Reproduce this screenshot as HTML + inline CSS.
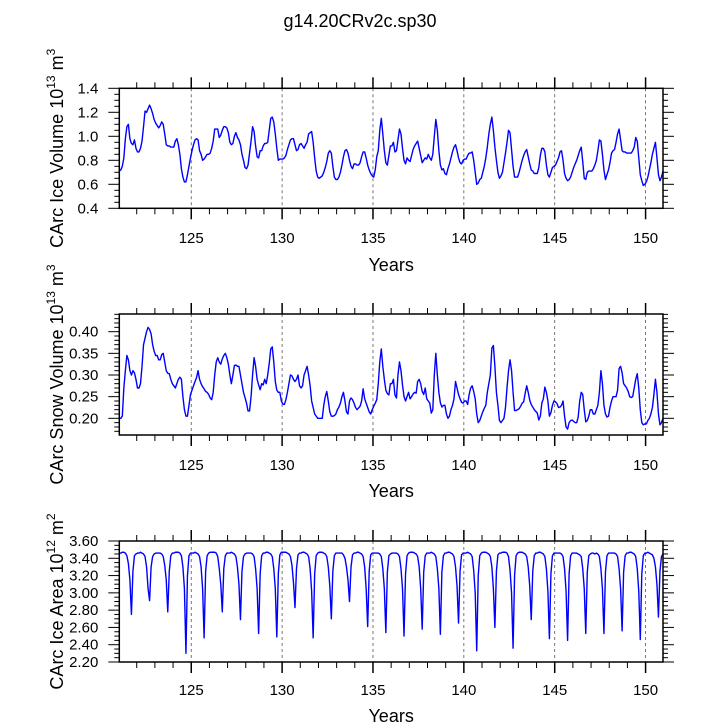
<!DOCTYPE html>
<html><head><meta charset="utf-8"><style>
html,body{margin:0;padding:0;background:#fff;}
svg{display:block;font-family:"Liberation Sans",Arial,sans-serif;}
</style></head><body>
<svg id="chart" width="719" height="724" viewBox="0 0 719 724" xmlns="http://www.w3.org/2000/svg">
<text x="360" y="27" text-anchor="middle" font-size="18">g14.20CRv2c.sp30</text>
</svg>
<script>
const startYear = 121;
const majorYears = [125,130,135,140,145,150];
const iceVolume = [
0.71,0.72,0.75,0.82,0.98,1.08,1.10,0.98,0.94,0.93,0.97,0.90,
0.87,0.87,0.90,0.96,1.08,1.21,1.20,1.23,1.26,1.23,1.19,1.14,
1.11,1.09,1.07,1.09,1.12,1.10,1.02,0.93,0.92,0.92,0.91,0.91,
0.91,0.96,0.98,0.93,0.85,0.73,0.66,0.62,0.62,0.68,0.75,0.82,
0.88,0.93,0.97,0.98,0.97,0.88,0.85,0.80,0.81,0.83,0.85,0.85,
0.86,0.90,0.96,1.06,1.06,1.06,0.99,1.01,1.05,1.08,1.08,1.07,
1.03,0.95,0.93,0.94,1.00,1.03,0.99,0.97,0.93,0.85,0.80,0.74,
0.73,0.76,0.86,0.96,1.08,1.04,0.92,0.83,0.82,0.88,0.88,0.92,
0.94,0.94,0.95,1.05,1.15,1.16,1.12,1.02,0.90,0.80,0.81,0.81,
0.81,0.82,0.84,0.89,0.93,0.97,0.98,0.98,0.93,0.88,0.89,0.93,
0.94,0.92,0.90,0.93,0.95,1.02,1.03,1.04,0.95,0.82,0.71,0.66,
0.65,0.66,0.67,0.70,0.74,0.79,0.86,0.88,0.86,0.75,0.66,0.64,
0.64,0.66,0.70,0.76,0.83,0.88,0.89,0.86,0.80,0.75,0.73,0.77,
0.77,0.76,0.76,0.78,0.83,0.87,0.87,0.82,0.76,0.72,0.69,0.67,
0.66,0.72,0.83,0.88,1.05,1.15,1.02,0.88,0.78,0.76,0.84,0.92,
0.92,0.95,0.87,0.88,0.97,1.06,1.02,0.90,0.80,0.77,0.82,0.80,
0.79,0.84,0.89,0.92,0.94,0.96,0.90,0.84,0.78,0.80,0.82,0.81,
0.85,0.82,0.80,0.85,1.00,1.14,1.05,0.88,0.76,0.72,0.73,0.69,
0.68,0.73,0.77,0.82,0.87,0.91,0.93,0.88,0.82,0.78,0.77,0.80,
0.81,0.81,0.84,0.86,0.86,0.87,0.80,0.70,0.60,0.61,0.64,0.65,
0.70,0.75,0.82,0.91,1.02,1.10,1.16,1.05,0.91,0.80,0.70,0.65,
0.67,0.70,0.78,0.86,0.95,1.05,1.03,0.89,0.75,0.66,0.66,0.66,
0.70,0.75,0.80,0.84,0.87,0.89,0.83,0.77,0.72,0.71,0.69,0.69,
0.69,0.74,0.84,0.90,0.90,0.87,0.76,0.68,0.66,0.70,0.74,0.75,
0.76,0.79,0.82,0.87,0.88,0.80,0.69,0.65,0.63,0.64,0.66,0.70,
0.74,0.77,0.80,0.84,0.88,0.91,0.79,0.65,0.64,0.70,0.71,0.71,
0.71,0.73,0.76,0.80,0.88,0.97,0.96,0.85,0.72,0.64,0.68,0.72,
0.78,0.86,0.88,0.89,0.95,1.02,1.06,0.97,0.88,0.87,0.87,0.86,
0.86,0.86,0.86,0.88,0.91,0.99,0.96,0.82,0.68,0.63,0.59,0.60,
0.62,0.66,0.72,0.78,0.85,0.90,0.95,0.82,0.68,0.63,0.66,0.71];
const snowVolume = [
0.200,0.200,0.205,0.270,0.310,0.345,0.335,0.310,0.300,0.310,0.305,0.290,
0.270,0.270,0.280,0.320,0.370,0.385,0.400,0.410,0.405,0.395,0.370,0.355,
0.345,0.345,0.335,0.335,0.347,0.350,0.330,0.310,0.304,0.303,0.290,0.280,
0.275,0.270,0.280,0.290,0.295,0.290,0.250,0.220,0.205,0.205,0.230,0.255,
0.265,0.275,0.285,0.294,0.310,0.290,0.280,0.273,0.268,0.262,0.260,0.255,
0.247,0.243,0.260,0.300,0.330,0.340,0.330,0.325,0.337,0.345,0.350,0.340,
0.325,0.300,0.280,0.300,0.322,0.323,0.320,0.320,0.300,0.280,0.260,0.248,
0.235,0.217,0.217,0.250,0.300,0.340,0.320,0.290,0.277,0.266,0.280,0.277,
0.290,0.280,0.300,0.327,0.360,0.365,0.330,0.285,0.265,0.260,0.260,0.240,
0.233,0.232,0.243,0.260,0.280,0.300,0.298,0.290,0.285,0.290,0.300,0.275,
0.270,0.275,0.300,0.310,0.320,0.300,0.275,0.240,0.225,0.210,0.205,0.200,
0.200,0.200,0.200,0.230,0.250,0.262,0.240,0.215,0.205,0.205,0.206,0.210,
0.220,0.226,0.235,0.250,0.260,0.240,0.215,0.210,0.240,0.247,0.243,0.235,
0.225,0.220,0.224,0.228,0.240,0.268,0.245,0.235,0.225,0.215,0.210,0.220,
0.228,0.235,0.243,0.280,0.330,0.360,0.320,0.290,0.265,0.257,0.254,0.280,
0.280,0.290,0.254,0.247,0.300,0.330,0.310,0.277,0.250,0.240,0.250,0.260,
0.245,0.250,0.256,0.260,0.258,0.285,0.290,0.280,0.262,0.255,0.270,0.245,
0.240,0.235,0.212,0.220,0.300,0.350,0.300,0.260,0.236,0.226,0.230,0.230,
0.210,0.200,0.205,0.220,0.230,0.245,0.285,0.270,0.255,0.245,0.237,0.235,
0.240,0.240,0.232,0.255,0.270,0.275,0.262,0.245,0.210,0.190,0.195,0.205,
0.215,0.223,0.230,0.260,0.280,0.300,0.362,0.368,0.320,0.260,0.230,0.195,
0.190,0.195,0.200,0.225,0.270,0.310,0.335,0.310,0.260,0.218,0.218,0.220,
0.222,0.228,0.235,0.238,0.258,0.275,0.260,0.242,0.232,0.226,0.220,0.216,
0.212,0.196,0.205,0.235,0.245,0.272,0.260,0.240,0.205,0.213,0.230,0.240,
0.238,0.234,0.225,0.226,0.230,0.240,0.205,0.180,0.175,0.190,0.195,0.196,
0.193,0.190,0.190,0.203,0.240,0.260,0.255,0.220,0.192,0.195,0.205,0.220,
0.220,0.210,0.210,0.220,0.230,0.260,0.310,0.280,0.230,0.210,0.203,0.205,
0.225,0.240,0.250,0.250,0.250,0.265,0.315,0.320,0.305,0.280,0.275,0.270,
0.262,0.250,0.248,0.250,0.270,0.290,0.303,0.270,0.220,0.190,0.185,0.187,
0.187,0.195,0.200,0.210,0.225,0.255,0.290,0.260,0.210,0.185,0.190,0.200];
const iceArea = [
3.46,3.46,3.47,3.47,3.46,3.43,3.34,3.15,2.75,3.25,3.43,3.45,
3.46,3.46,3.47,3.46,3.45,3.42,3.30,3.05,2.91,3.30,3.42,3.45,
3.46,3.46,3.46,3.46,3.45,3.42,3.32,3.15,2.78,3.25,3.43,3.46,
3.46,3.47,3.47,3.47,3.46,3.43,3.30,3.05,2.30,3.20,3.43,3.46,
3.46,3.46,3.47,3.46,3.45,3.42,3.30,3.05,2.48,3.25,3.43,3.46,
3.47,3.47,3.47,3.47,3.46,3.42,3.28,3.10,2.78,3.28,3.43,3.46,
3.46,3.46,3.47,3.46,3.45,3.42,3.30,3.10,2.69,3.25,3.42,3.45,
3.46,3.46,3.46,3.46,3.45,3.42,3.28,3.05,2.53,3.22,3.43,3.46,
3.46,3.47,3.47,3.46,3.45,3.42,3.28,3.05,2.49,3.22,3.44,3.47,
3.47,3.47,3.47,3.46,3.45,3.42,3.32,3.12,2.83,3.28,3.44,3.46,
3.46,3.47,3.47,3.46,3.45,3.42,3.28,3.02,2.48,3.22,3.43,3.46,
3.47,3.47,3.47,3.46,3.45,3.42,3.30,3.08,2.70,3.25,3.43,3.46,
3.46,3.46,3.46,3.46,3.44,3.40,3.30,3.15,2.90,3.30,3.44,3.46,
3.46,3.47,3.47,3.46,3.45,3.42,3.30,3.05,2.61,3.25,3.44,3.46,
3.46,3.46,3.46,3.46,3.45,3.42,3.28,3.05,2.54,3.24,3.43,3.45,
3.46,3.46,3.46,3.46,3.45,3.42,3.28,3.05,2.50,3.22,3.43,3.46,
3.47,3.47,3.47,3.46,3.45,3.42,3.30,3.05,2.58,3.24,3.43,3.46,
3.46,3.46,3.47,3.46,3.45,3.42,3.28,3.05,2.52,3.24,3.43,3.46,
3.46,3.47,3.47,3.46,3.45,3.42,3.30,3.08,2.65,3.25,3.44,3.46,
3.46,3.46,3.47,3.46,3.45,3.42,3.26,3.00,2.33,3.20,3.43,3.46,
3.47,3.47,3.47,3.46,3.45,3.42,3.30,3.05,2.60,3.25,3.44,3.46,
3.46,3.47,3.47,3.47,3.46,3.42,3.26,3.00,2.36,3.20,3.43,3.46,
3.47,3.47,3.47,3.46,3.45,3.42,3.30,3.08,2.69,3.25,3.43,3.46,
3.46,3.47,3.47,3.46,3.45,3.42,3.28,3.02,2.47,3.22,3.43,3.46,
3.46,3.46,3.46,3.46,3.45,3.42,3.28,3.02,2.45,3.22,3.43,3.46,
3.46,3.46,3.46,3.45,3.44,3.42,3.28,3.05,2.53,3.24,3.43,3.45,
3.46,3.46,3.45,3.46,3.45,3.42,3.28,3.05,2.53,3.24,3.43,3.46,
3.46,3.46,3.46,3.46,3.45,3.42,3.28,3.05,2.56,3.24,3.43,3.46,
3.46,3.47,3.47,3.46,3.45,3.42,3.28,3.02,2.46,3.22,3.43,3.46,
3.46,3.47,3.46,3.45,3.44,3.40,3.30,3.10,2.72,3.25,3.42,3.45];
const volTicks = ["0.4","0.6","0.8","1.0","1.2","1.4"];
const snowTicks = ["0.20","0.25","0.30","0.35","0.40"];
const areaTicks = ["2.20","2.40","2.60","2.80","3.00","3.20","3.40","3.60"];

const NS = "http://www.w3.org/2000/svg";
const svg = document.getElementById('chart');
const X0 = 119.3, X1 = 663;
const T0 = startYear + 0.5/12, T1 = startYear + 30 - 0.5/12;
function xScale(t){ return X0 + (t - T0) / (T1 - T0) * (X1 - X0); }
function el(tag, attrs, parent){
  const e = document.createElementNS(NS, tag);
  for (const k in attrs) e.setAttribute(k, attrs[k]);
  (parent || svg).appendChild(e);
  return e;
}

const panels = [
  {name:'ice-volume', top:88.3, bottom:208.3, ymin:0.4, ymax:1.4, minor:0.05, data:iceVolume, ticks:volTicks,
   title:['CArc Ice Volume 10','13',' m','3'], xlab:243, ylab:271},
  {name:'snow-volume', top:314, bottom:435, ymin:0.1615, ymax:0.4408, minor:0.01, data:snowVolume, ticks:snowTicks,
   title:['CArc Snow Volume 10','13',' m','3'], xlab:470, ylab:497},
  {name:'ice-area', top:541, bottom:662, ymin:2.2, ymax:3.6, minor:0.05, data:iceArea, ticks:areaTicks,
   title:['CArc Ice Area 10','12',' m','2'], xlab:695, ylab:722}
];

panels.forEach(p => {
  const g = el('g', {});
  
  
  const yScale = v => p.bottom - (v - p.ymin) / (p.ymax - p.ymin) * (p.bottom - p.top);
  majorYears.forEach(yr => {
    const x = xScale(yr);
    const l = el('line', {x1:x, x2:x, y1:p.top, y2:p.bottom, stroke:'#555', 'stroke-width':0.8, 'stroke-dasharray':'3,3'}, g);
    
    
  });
  let d = '';
  p.data.forEach((v, i) => {
    const t = startYear + (i + 0.5) / 12;
    d += (i ? 'L' : 'M') + xScale(t).toFixed(2) + ',' + yScale(v).toFixed(2);
  });
  const path = el('path', {d:d, fill:'none', stroke:'#0000ff', 'stroke-width':1.4, 'stroke-linejoin':'round'}, g);
  
  
  const fr = el('rect', {x:X0, y:p.top, width:X1 - X0, height:p.bottom - p.top, fill:'none', stroke:'#000', 'stroke-width':1.5}, g);
  
  
  for (let yr = startYear + 1; yr <= startYear + 29; yr++) {
    const x = xScale(yr);
    const major = majorYears.indexOf(yr) >= 0;
    const len = major ? 11 : 6;
    el('line', {x1:x, x2:x, y1:p.bottom, y2:p.bottom + len, stroke:'#000', 'stroke-width':major?1.5:1}, g);
    el('line', {x1:x, x2:x, y1:p.top, y2:p.top - len, stroke:'#000', 'stroke-width':major?1.5:1}, g);
    if (major) {
      const tx = el('text', {x:x, y:p.xlab, 'text-anchor':'middle', 'font-size':15}, g);
      tx.textContent = String(yr);
      
      
    }
  }
  const step = (parseFloat(p.ticks[1]) - parseFloat(p.ticks[0]));
  const first = parseFloat(p.ticks[0]);
  for (let v = Math.ceil((p.ymin - 1e-9) / p.minor) * p.minor; v <= p.ymax + 1e-9; v += p.minor) {
    const y = yScale(v);
    const k = (v - first) / step;
    const major = Math.abs(k - Math.round(k)) < 1e-6 && v >= first - 1e-9;
    const len = major ? 11 : 5;
    el('line', {x1:X0, x2:X0 - len, y1:y, y2:y, stroke:'#000', 'stroke-width':1}, g);
    el('line', {x1:X1, x2:X1 + len, y1:y, y2:y, stroke:'#000', 'stroke-width':1}, g);
  }
  p.ticks.forEach(lbl => {
    const y = yScale(parseFloat(lbl));
    const tx = el('text', {x:X0 - 21, y:y + 5, 'text-anchor':'end', 'font-size':15}, g);
    tx.textContent = lbl;
    
    
  });
  const xt = el('text', {x:(X0 + X1) / 2, y:p.ylab, 'text-anchor':'middle', 'font-size':18}, g);
  xt.textContent = 'Years';
  
  
  const cy = (p.top + p.bottom) / 2;
  const yt = el('text', {x:0, y:0, 'text-anchor':'middle', 'font-size':18, transform:'translate(63,' + cy + ') rotate(-90)'}, g);
  
  
  p.title.forEach((s, i) => {
    const ts = el('tspan', i % 2 ? {dy:-8, 'font-size':12} : (i ? {dy:8} : {}), yt);
    ts.textContent = s;
  });
});
</script>
</body></html>
